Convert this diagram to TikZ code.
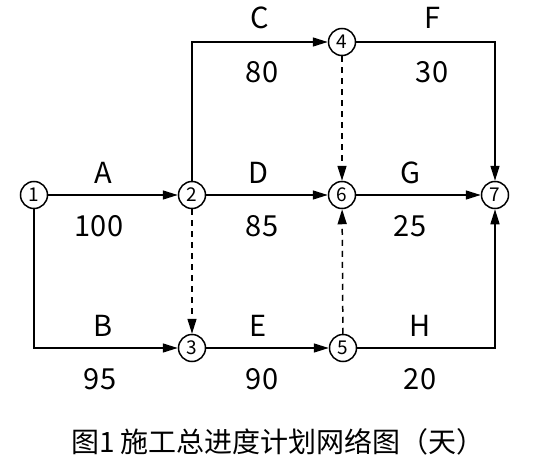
\documentclass[tikz,border=0pt]{standalone}
\usepackage{fontspec}
\setmainfont{Noto Sans CJK SC}
\usetikzlibrary{arrows.meta}

\begin{document}
\begin{tikzpicture}[x=1pt,y=-1pt,line width=1.5pt,
  ev/.style={draw, circle, fill=white, inner sep=0pt, minimum size=27pt, font=\fontsize{19}{19}\selectfont},
  act/.style={-{Triangle[length=15pt,width=9pt]}},
  dummy/.style={act, dash pattern=on 6pt off 5pt},
  lab/.style={font=\fontsize{29}{29}\selectfont}]
\useasboundingbox (0,0) rectangle (546,476);
% events
\node[ev] (n1) at (34,195) {1};
\node[ev] (n2) at (192,195) {2};
\node[ev] (n3) at (192,348) {3};
\node[ev] (n4) at (342,42) {4};
\node[ev] (n5) at (343,348) {5};
\node[ev] (n6) at (342,195) {6};
\node[ev] (n7) at (495,195) {7};
% activities
\draw[act] (n1) -- (n2);
\draw[act] (n1) |- (n3);
\draw[act] (n2) |- (n4);
\draw[act] (n2) -- (n6);
\draw[act] (n4) -| (n7);
\draw[act] (n6) -- (n7);
\draw[act] (n3) -- (n5);
\draw[act] (n5) -| (n7);
\draw[dummy] (n2) -- (n3);
\draw[dummy] (n4) -- (n6);
\draw[dummy] (n5) -- (n6);
% labels
\node[lab] (la) at (103,173) {A}; \node[lab] (da) at (99,226) {100};
\node[lab] (lb) at (103,326) {B}; \node[lab] (db) at (100,379) {95};
\node[lab] (lc) at (260,18) {C};  \node[lab] (dc) at (262,72) {80};
\node[lab] (ld) at (258,173) {D}; \node[lab] (dd) at (262,226) {85};
\node[lab] (le) at (258,326) {E}; \node[lab] (de) at (262,379) {90};
\node[lab] (lf) at (432,18) {F};  \node[lab] (df) at (432,72) {30};
\node[lab] (lg) at (410,173) {G}; \node[lab] (dg) at (410,226) {25};
\node[lab] (lh) at (420,326) {H}; \node[lab] (dh) at (420,379) {20};
\node[lab, font=\fontsize{28}{28}\selectfont] (cap) at (278,442) {图1 施工总进度计划网络图（天）};
\end{tikzpicture}
\end{document}
